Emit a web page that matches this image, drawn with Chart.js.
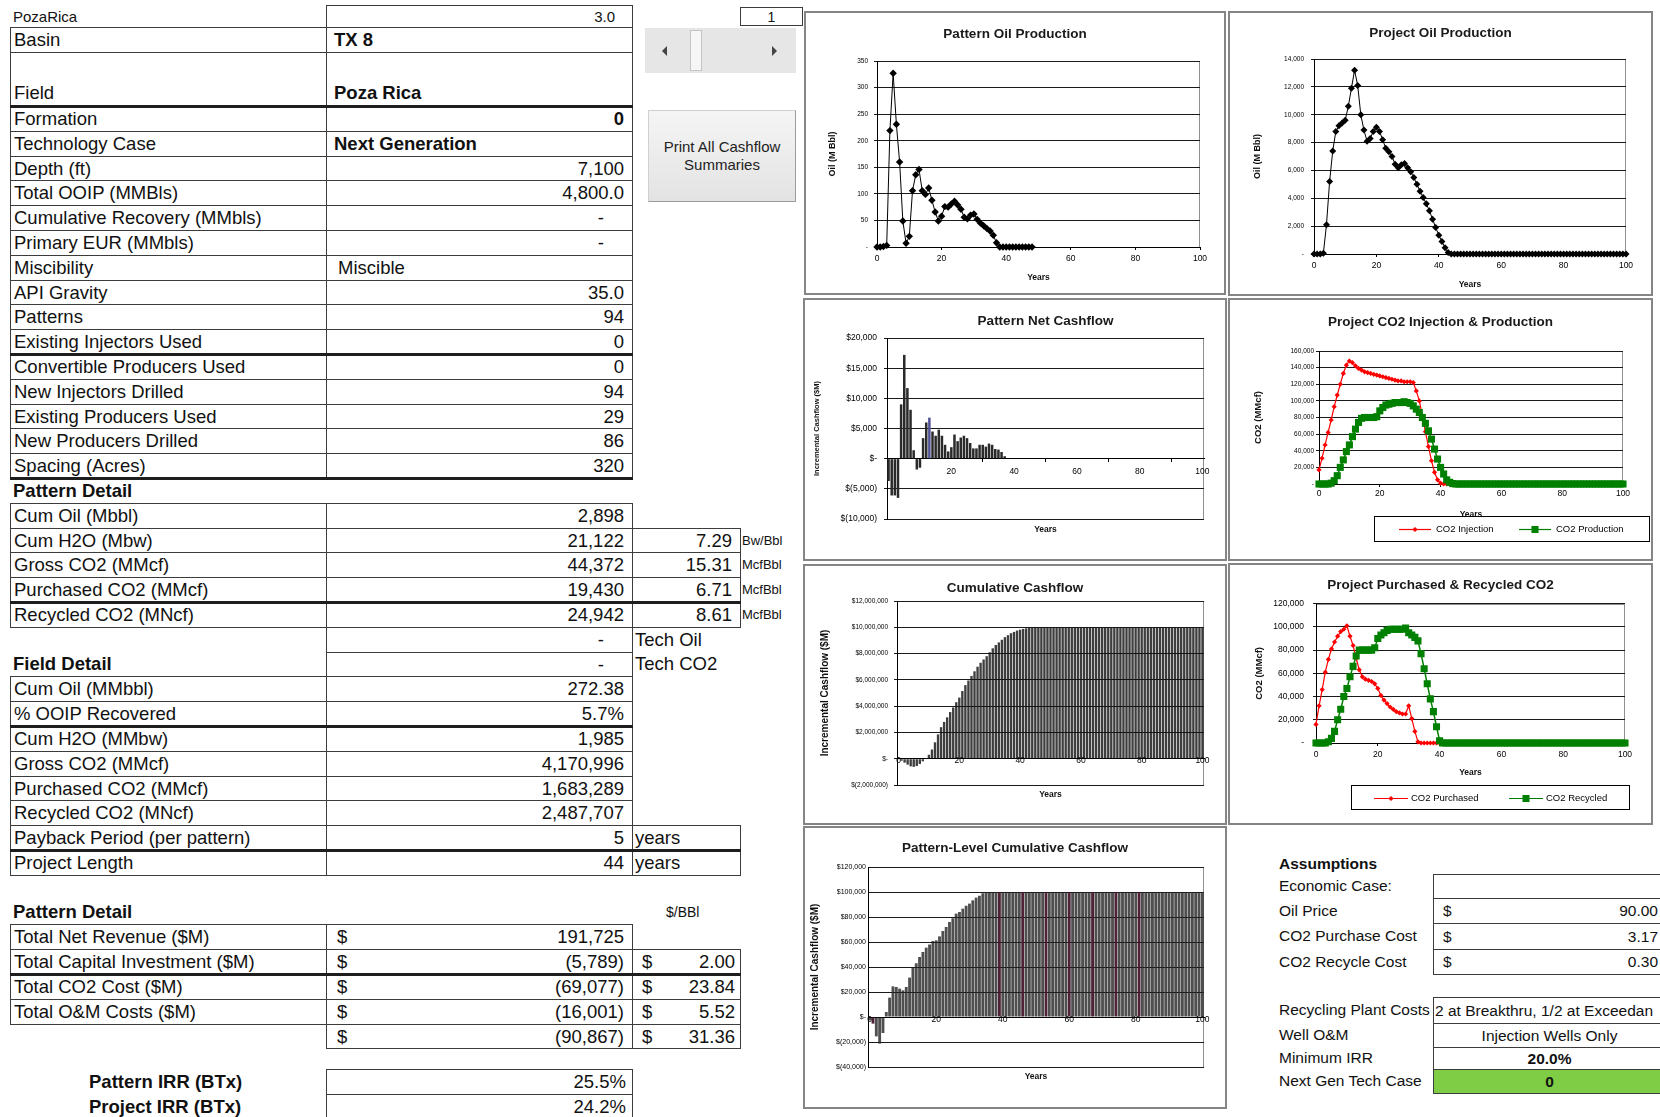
<!DOCTYPE html>
<html>
<head>
<meta charset="utf-8">
<script src="https://cdn.jsdelivr.net/npm/chart.js@4.4.1/dist/chart.umd.min.js"></script>
<style>
html, body { margin: 0; padding: 0; background: #fff; }
body { width: 1660px; height: 1117px; position: relative; overflow: hidden;
       font-family: "Liberation Sans", Arial, sans-serif; color: #111; }
.c { position: absolute; box-sizing: border-box; white-space: nowrap; overflow: hidden;
     display: flex; align-items: center; font-size: 18.5px; padding: 0 3px; }
.bd { border: 1px solid #3c3c3c; }
.r { justify-content: flex-end; padding-right: 8px; }
.l { justify-content: flex-start; }
.ctr { justify-content: center; }
.sb { justify-content: space-between; padding-left: 10px; padding-right: 8px; }
.b { font-weight: bold; }
.thick { position: absolute; height: 3px; background: #1e1e1e; }
.chartbox { position: absolute; box-sizing: border-box; border: 2px solid #858585; background: #fff; }
.chartbox canvas { position: absolute; left: 0; top: 0; }
</style>
</head>
<body>
<script>
// ---- sheet data ----
const infoLabels = ['Formation', 'Technology Case', 'Depth (ft)', 'Total OOIP (MMBls)', 'Cumulative Recovery (MMbls)',
  'Primary EUR (MMbls)', 'Miscibility', 'API Gravity', 'Patterns', 'Existing Injectors Used',
  'Convertible Producers Used', 'New Injectors Drilled', 'Existing Producers Used', 'New Producers Drilled', 'Spacing (Acres)'];
const infoValues = ['0', 'Next Generation', '7,100', '4,800.0', '-', '-', 'Miscible', '35.0', '94', '0', '0', '94', '29', '86', '320'];
const patternLabels = ['Cum Oil (Mbbl)', 'Cum H2O (Mbw)', 'Gross CO2 (MMcf)', 'Purchased CO2 (MMcf)', 'Recycled CO2 (MNcf)'];
const patternValues = ['2,898', '21,122', '44,372', '19,430', '24,942'];
const patternRatios = [null, '7.29', '15.31', '6.71', '8.61'];
const ratioUnits = [null, 'Bw/Bbl', 'McfBbl', 'McfBbl', 'McfBbl'];
const techLabels = ['Tech Oil', 'Tech CO2'];
const techValues = ['-', '-'];
const fieldLabels = ['Cum Oil (MMbbl)', '% OOIP Recovered', 'Cum H2O (MMbw)', 'Gross CO2 (MMcf)', 'Purchased CO2 (MMcf)',
  'Recycled CO2 (MNcf)', 'Payback Period (per pattern)', 'Project Length'];
const fieldValues = ['272.38', '5.7%', '1,985', '4,170,996', '1,683,289', '2,487,707', '5', '44'];
const costLabels = ['Total Net Revenue ($M)', 'Total Capital Investment ($M)', 'Total CO2 Cost ($M)', 'Total O&M Costs ($M)', ''];
const costValues = ['191,725', '(5,789)', '(69,077)', '(16,001)', '(90,867)'];
const costPerBbl = [null, '2.00', '23.84', '5.52', '31.36'];
const irrLabels = ['Pattern IRR (BTx)', 'Project IRR (BTx)'];
const irrValues = ['25.5%', '24.2%'];
const assumptionLabels = ['Economic Case:', 'Oil Price', 'CO2 Purchase Cost', 'CO2 Recycle Cost',
  'Recycling Plant Costs', 'Well O&M', 'Minimum IRR', 'Next Gen Tech Case'];
const assumptionValues = ['', '90.00', '3.17', '0.30', '2 at Breakthru, 1/2 at Exceedan', 'Injection Wells Only', '20.0%', '0'];

// ---- chart data ----
const years = [0,1,2,3,4,5,6,7,8,9,10,11,12,13,14,15,16,17,18,19,20,21,22,23,24,25,26,27,28,29,30,
  31,32,33,34,35,36,37,38,39,40,41,42,43,44,45,46,47,48,49,50,51,52,53,54,55,56,57,58,59,60,
  61,62,63,64,65,66,67,68,69,70,71,72,73,74,75,76,77,78,79,80,81,82,83,84,85,86,87,88,89,90,
  91,92,93,94,95,96,97,98,99,100];

const patternOil = [0,0,1,3,219,327,231,160,49,7, 20,106,136,146,106,99,111,88,66,49,
  58,76,75,81,86,79,71,56,53,60, 62,52,45,40,35,30,22,8,0,0, 0,0,0,0,0,0,0,0,0];

const projectOil = [0,0,0,50,2100,5200,7400,8800,9200,9400,
  9600,10600,11900,13200,12100,10000,8900,8100,8300,8800,
  9100,8800,8200,7600,7350,7000,6450,6200,6400,6500,
  6200,5900,5500,5000,4500,4050,3600,3100,2500,1900,
  1350,900,450,100,0,0,0,0,0,0,
  0,0,0,0,0,0,0,0,0,0, 0,0,0,0,0,0,0,0,0,0, 0,0,0,0,0,0,0,0,0,0,
  0,0,0,0,0,0,0,0,0,0, 0,0,0,0,0,0,0,0,0,0, 0];

const patternNetCash = [-3700,-6100,-6100,-6500,9000,17200,11700,8100,1400,-1800,
  -1500,3400,6000,6800,4500,3800,4800,3800,2300,1200,
  1900,4000,2900,3500,3800,3400,2600,1700,1700,2300,
  2300,2000,2500,2300,1600,1500,1100,400];

const co2Injection = [17000,31000,47000,62000,77000,93000,107000,120000,133000,143000,
  148000,146000,142000,139000,137000,135000,134000,133000,132000,131000,
  130000,129000,128000,127000,126000,125000,124000,124000,123000,123000,
  123000,122000,112000,100000,82000,63000,45000,28000,14000,5000,
  1000,0,0,0,0];

const co2Production = [0,0,0,0,1000,4000,10000,20000,29000,39000,
  47000,57000,66000,74000,79000,80000,80000,80000,80000,81000,
  88000,92000,95000,96000,97000,98000,98000,98000,99000,98000,
  97000,94000,90000,86000,80000,73000,64000,54000,42000,30000,
  20000,12000,5000,2000,500,0,0,0,0,0,
  0,0,0,0,0,0,0,0,0,0, 0,0,0,0,0,0,0,0,0,0, 0,0,0,0,0,0,0,0,0,0,
  0,0,0,0,0,0,0,0,0,0, 0,0,0,0,0,0,0,0,0,0, 0];

const projectCumCash = [-50000,-150000,-300000,-450000,-580000,-620000,-560000,-400000,-200000,50000,
  300000,700000,1250000,1850000,2400000,2800000,3150000,3550000,3900000,4300000,
  4650000,5150000,5600000,5950000,6300000,6650000,7000000,7300000,7550000,7800000,
  8100000,8400000,8650000,8850000,9050000,9250000,9400000,9550000,9650000,9750000,
  9820000,9880000,9920000,9950000,9980000,9980000,9980000,9980000,9980000,9980000,
  9980000,9980000,9980000,9980000,9980000,9980000,9980000,9980000,9980000,9980000,
  9980000,9980000,9980000,9980000,9980000,9980000,9980000,9980000,9980000,9980000,
  9980000,9980000,9980000,9980000,9980000,9980000,9980000,9980000,9980000,9980000,
  9980000,9980000,9980000,9980000,9980000,9980000,9980000,9980000,9980000,9980000,
  9980000,9980000,9980000,9980000,9980000,9980000,9980000,9980000,9980000,9980000,
  9980000];

const co2Purchased = [16000,32000,46000,61000,72000,81000,87000,92000,96000,98000,
  101000,92000,84000,73000,63000,57000,55000,54000,53000,51000,
  47000,41000,37000,34000,31000,29000,27000,26000,25000,25000,
  32000,21000,10000,1000,0,0,0,0,0,0,0];

const co2Recycled = [0,0,0,0,1000,4000,10000,20000,29000,40000,
  47000,57000,66000,75000,80000,80000,80000,80000,80000,82000,
  90000,93000,95000,97000,98000,98000,98000,98000,98000,99000,
  95000,93000,91000,88000,77000,64000,51000,38000,27000,14000,
  2000,0,0,0,0,0,0,0,0,0,
  0,0,0,0,0,0,0,0,0,0, 0,0,0,0,0,0,0,0,0,0, 0,0,0,0,0,0,0,0,0,0,
  0,0,0,0,0,0,0,0,0,0, 0,0,0,0,0,0,0,0,0,0, 0];

const patternCumCash = [-2700,-5300,-15500,-21300,-12800,4000,15500,24500,24000,22700,
  21300,24000,31500,39500,43000,48000,52000,55500,58000,60800,
  61300,64500,68800,72000,76000,79000,82700,84000,86700,89000,
  90700,93300,95500,97000,99000,100000,100000,100000,100000,100000,
  100000,100000,100000,100000,100000,100000,100000,100000,100000,100000,
  100000,100000,100000,100000,100000,100000,100000,100000,100000,100000,
  100000,100000,100000,100000,100000,100000,100000,100000,100000,100000,
  100000,100000,100000,100000,100000,100000,100000,100000,100000,100000,
  100000,100000,100000,100000,100000,100000,100000,100000,100000,100000,
  100000,100000,100000,100000,100000,100000,100000,100000,100000,100000,
  100000];

// ---- sheet layout ----
const ROW0 = 106, RH = 24.8;
const rowY = r => Math.round(ROW0 + RH * r);
const A = [10, 316], B = [326, 306], C = [632, 108];

function cell(x, y, w, h, html, cls, style) {
  const d = document.createElement('div');
  d.className = 'c ' + (cls || '');
  const bordered = (cls || '').indexOf('bd') >= 0;
  d.style.left = x + 'px'; d.style.top = y + 'px';
  d.style.width = (w + (bordered ? 1 : 0)) + 'px';
  d.style.height = (h + (bordered ? 1 : 0)) + 'px';
  if (style) d.style.cssText += style;
  d.innerHTML = html;
  document.body.appendChild(d);
  return d;
}
function thick(x, y, w) {
  const d = document.createElement('div');
  d.className = 'thick';
  d.style.left = x + 'px'; d.style.top = (y - 1) + 'px'; d.style.width = (w + 1) + 'px';
  document.body.appendChild(d);
}
function rowCells(r, label, value, opts) {
  const y = rowY(r), h = rowY(r + 1) - y;
  opts = opts || {};
  if (label !== null) cell(A[0], y, A[1], h, label, 'bd');
  if (value !== null) cell(B[0], y, B[1], h, value, 'bd ' + (opts.valueCls || 'r'), opts.valueStyle || '');
}

// header rows
cell(10, 5, 316, 22, 'PozaRica', '', 'font-size:15px');
cell(326, 5, 306, 22, '3.0', 'bd r', 'font-size:15px;padding-right:17px');
cell(A[0], 27, A[1], 25, 'Basin', 'bd');
cell(B[0], 27, B[1], 25, 'TX 8', 'bd b', 'padding-left:7px');
cell(A[0], 52, A[1], 54, 'Field', 'bd', 'align-items:flex-end;padding-bottom:2px');
cell(B[0], 52, B[1], 54, 'Poza Rica', 'bd b', 'align-items:flex-end;padding-bottom:2px;padding-left:7px');

infoLabels.forEach((lab, i) => {
  const v = infoValues[i];
  let cls = 'r', st = '';
  if (i === 0) cls = 'r b';
  if (i === 1) { cls = 'l b'; st = 'padding-left:7px'; }
  if (i === 6) { cls = 'l'; st = 'padding-left:11px'; }
  if (v === '-') st = 'padding-right:28px';
  rowCells(i, lab, v, {valueCls: cls, valueStyle: st});
});
thick(10, 106, 622);
thick(10, rowY(10), 622);
thick(10, rowY(15), 622);

cell(A[0], rowY(15), A[1], rowY(16) - rowY(15), 'Pattern Detail', 'b');
patternLabels.forEach((lab, i) => {
  const r = 16 + i;
  rowCells(r, lab, patternValues[i]);
  if (patternRatios[i]) {
    cell(C[0], rowY(r), C[1], rowY(r + 1) - rowY(r), patternRatios[i], 'bd r');
    cell(742, rowY(r), 60, rowY(r + 1) - rowY(r), ratioUnits[i], '', 'font-size:13px;padding:0');
  }
});
thick(10, rowY(20), 730);

techLabels.forEach((lab, i) => {
  const r = 21 + i, y = rowY(r), h = rowY(r + 1) - y;
  cell(B[0], y, B[1], h, techValues[i], 'bd r', 'padding-right:28px');
  cell(C[0] + 1, y, 110, h, lab, '', 'padding-left:2px');
});
cell(A[0], rowY(22), A[1], rowY(23) - rowY(22), 'Field Detail', 'b');

fieldLabels.forEach((lab, i) => {
  const r = 23 + i;
  rowCells(r, lab, fieldValues[i]);
  if (i >= 6) cell(C[0], rowY(r), C[1], rowY(r + 1) - rowY(r), 'years', 'bd', 'padding-left:2px');
});
thick(10, rowY(25), 622);
thick(10, rowY(30), 730);

cell(A[0], rowY(32), A[1], rowY(33) - rowY(32), 'Pattern Detail', 'b');
cell(660, rowY(32), 60, rowY(33) - rowY(32), '$/BBl', '', 'font-size:14px;padding-left:6px');
costLabels.forEach((lab, i) => {
  const r = 33 + i, y = rowY(r), h = rowY(r + 1) - y;
  if (lab) cell(A[0], y, A[1], h, lab, 'bd');
  cell(B[0], y, B[1], h, '<span>$</span><span>' + costValues[i] + '</span>', 'bd sb');
  if (costPerBbl[i]) cell(C[0], y, C[1], h, '<span>$</span><span>' + costPerBbl[i] + '</span>', 'bd sb', 'padding-left:9px;padding-right:5px');
});
thick(10, rowY(35), 730);

irrLabels.forEach((lab, i) => {
  const y = 1069 + i * 25;
  cell(86, y, 240, 25, lab, 'b');
  cell(B[0], y, B[1], 25, irrValues[i], 'bd r', 'padding-right:6px');
});

// scroll control and button
cell(740, 7, 62, 18, '1', 'bd ctr', 'font-size:14px');
(function () {
  const s = document.createElement('div');
  s.style.cssText = 'position:absolute;left:645px;top:28px;width:151px;height:45px;background:#e6e6e6;';
  s.innerHTML =
    '<div style="position:absolute;left:17px;top:18px;width:0;height:0;border-top:5px solid transparent;border-bottom:5px solid transparent;border-right:5px solid #444"></div>' +
    '<div style="position:absolute;left:45px;top:2px;width:10px;height:39px;background:#f6f6f6;border:1px solid #c4c4c4"></div>' +
    '<div style="position:absolute;left:127px;top:18px;width:0;height:0;border-top:5px solid transparent;border-bottom:5px solid transparent;border-left:5px solid #444"></div>';
  document.body.appendChild(s);
  const b = document.createElement('div');
  b.style.cssText = 'position:absolute;left:648px;top:110px;width:148px;height:92px;box-sizing:border-box;' +
    'background:linear-gradient(#f5f5f5,#e3e3e3);border:1px solid #d0d0d0;border-right-color:#9c9c9c;border-bottom-color:#9c9c9c;' +
    'display:flex;align-items:center;justify-content:center;text-align:center;font-size:15px;line-height:18px;color:#222;';
  b.innerHTML = 'Print All Cashflow<br>Summaries';
  document.body.appendChild(b);
})();

// assumptions
cell(1276, 853, 150, 22, 'Assumptions', 'b', 'font-size:15.5px');
const asmY = [874, 898, 923, 949, 997, 1023, 1047, 1069];
const asmH = [24, 25, 26, 25, 26, 24, 22, 24];
assumptionLabels.forEach((lab, i) => {
  cell(1276, asmY[i], 160, asmH[i], lab, '', 'font-size:15.5px');
  let html = assumptionValues[i], cls = 'bd ctr', st = 'font-size:15.5px;';
  if (i >= 1 && i <= 3) { html = '<span>$</span><span>' + assumptionValues[i] + '</span>'; cls = 'bd sb'; st += 'padding-left:9px;padding-right:3px;width:229px'; }
  else if (i === 4) { cls = 'bd'; st += 'padding-left:1px;'; }
  else if (i === 6) { cls = 'bd ctr b'; }
  else if (i === 7) { cls = 'bd ctr b'; st += 'background:#7fcc45;'; }
  cell(1433, asmY[i], 232, asmH[i], html, cls, st);
});

// ---- charts ----
const FONT = '"Liberation Sans", Arial, sans-serif';
Chart.defaults.font.family = FONT;
Chart.defaults.color = '#000';

const plain = v => v === 0 ? '-' : v.toLocaleString('en-US');
const dollars = v => v === 0 ? '$-' : (v < 0 ? '$(' + (-v).toLocaleString('en-US') + ')' : '$' + v.toLocaleString('en-US'));

function marker(ctx, style, x, y, r) {
  ctx.beginPath();
  if (style === 'rect') {
    const s = r * Math.SQRT1_2;
    ctx.rect(x - s, y - s, 2 * s, 2 * s);
  } else {
    ctx.moveTo(x, y - r); ctx.lineTo(x + r, y); ctx.lineTo(x, y + r); ctx.lineTo(x - r, y); ctx.closePath();
  }
  ctx.fill();
}

const plotFrame = {
  id: 'plotFrame',
  beforeDraw(chart) {
    const a = chart.chartArea, ctx = chart.ctx;
    ctx.save();
    ctx.strokeStyle = '#8f8f8f'; ctx.lineWidth = 1;
    ctx.strokeRect(Math.round(a.left) + 0.5, Math.round(a.top) + 0.5, Math.round(a.right - a.left) - 1, Math.round(a.bottom - a.top));
    ctx.restore();
  },
  afterDraw(chart, args, opts) {
    const lg = opts.legend;
    if (!lg) return;
    const ctx = chart.ctx;
    ctx.save();
    ctx.fillStyle = '#fff'; ctx.fillRect(lg.x, lg.y, lg.w, lg.h);
    ctx.strokeStyle = '#000'; ctx.lineWidth = 1;
    ctx.strokeRect(lg.x + 0.5, lg.y + 0.5, lg.w - 1, lg.h - 1);
    const cy = Math.round(lg.y + lg.h / 2) + 0.5;
    chart.data.datasets.forEach((ds, i) => {
      const x0 = lg.x + lg.items[i];
      ctx.strokeStyle = ds.borderColor; ctx.lineWidth = 1.2;
      ctx.beginPath(); ctx.moveTo(x0, cy); ctx.lineTo(x0 + lg.line, cy); ctx.stroke();
      ctx.fillStyle = ds.backgroundColor;
      marker(ctx, ds.pointStyle, x0 + lg.line / 2, cy, ds.pointRadius);
      ctx.fillStyle = '#000';
      ctx.font = '9.5px ' + FONT;
      ctx.textBaseline = 'middle';
      ctx.fillText(ds.label, x0 + lg.line + lg.gap, cy);
    });
    ctx.restore();
  }
};

function buildChart(box, o, datasets) {
  const host = document.createElement('div');
  host.className = 'chartbox';
  host.style.left = box[0] + 'px'; host.style.top = box[1] + 'px';
  host.style.width = box[2] + 'px'; host.style.height = box[3] + 'px';
  const canvas = document.createElement('canvas');
  canvas.width = box[2] - 4; canvas.height = box[3] - 4;
  host.appendChild(canvas);
  document.body.appendChild(host);

  const xTitle = { display: true, text: 'Years', color: '#111', font: { size: 8.5, weight: 'bold' },
                   padding: { top: 0, bottom: o.yearsPad } };
  const x = o.bars ? {
    type: 'category', position: { y: 0 }, offset: true,
    ticks: { autoSkip: false, maxRotation: 0, minRotation: 0, font: { size: 8.5 }, padding: o.xPad,
             callback: (v, i) => (i % 20 === 0 && (o.zeroLabel || i > 0)) ? String(years[i]) : null },
    grid: { drawOnChartArea: false, drawTicks: o.xTick > 0, tickLength: o.xTick, color: '#000' },
    border: { color: '#000', width: 1 },
    title: xTitle,
    afterFit: s => { s.height = o.xH; }
  } : {
    type: 'linear', position: 'bottom', min: 0, max: 100,
    ticks: { stepSize: 20, maxRotation: 0, font: { size: 8.5 }, padding: o.xPad },
    grid: { drawOnChartArea: false, drawTicks: true, tickLength: 3, color: '#000' },
    border: { color: '#000', width: 1 },
    title: xTitle,
    afterFit: s => { s.height = o.xH; }
  };

  return new Chart(canvas, {
    type: o.bars ? 'bar' : 'line',
    data: { labels: years, datasets: datasets },
    options: {
      responsive: false,
      animation: false,
      devicePixelRatio: 1,
      events: [],
      layout: { padding: { left: 0, top: 0, right: 0, bottom: o.padB || 0 } },
      plugins: {
        legend: { display: false },
        tooltip: { enabled: false },
        title: { display: true, text: o.title, color: '#1a1a1a', fullSize: !o.titleOverPlot,
                 font: { size: 13.5, weight: 'bold' }, padding: { top: o.tTop, bottom: o.tBot } },
        plotFrame: { legend: o.legend || null }
      },
      scales: {
        x: x,
        y: {
          min: o.yMin, max: o.yMax,
          ticks: { stepSize: o.yStep, font: { size: o.yFont }, padding: o.yPad, callback: o.fmt },
          grid: { color: '#1a1a1a', lineWidth: 1, drawTicks: o.yTick > 0, tickLength: o.yTick },
          border: { color: '#000', width: 1 },
          title: { display: true, text: o.yTitle, color: '#111', font: { size: o.ytFont, weight: 'bold' },
                   padding: { top: o.ytPad, bottom: 0 } },
          afterFit: s => { s.width = o.yW; }
        },
        // empty right-hand spacer that keeps the plot off the right edge
        gap: {
          type: 'linear', position: 'right', display: true,
          grid: { display: false }, border: { display: false }, ticks: { display: false },
          afterFit: s => { s.width = o.padR; }
        }
      }
    },
    plugins: [plotFrame]
  });
}

// Pattern Oil Production
buildChart([804, 11, 422, 284], {
  title: 'Pattern Oil Production', tTop: 12.9, tBot: 18.9,
  yW: 71, padR: 24, xH: 46, xPad: 4, yearsPad: 9.9,
  yMin: 0, yMax: 350, yStep: 50, yFont: 6.5, yPad: 6, yTick: 3, fmt: plain,
  yTitle: 'Oil (M Bbl)', ytFont: 9, ytPad: 21.5
}, [{ label: 'Pattern Oil', data: patternOil, borderColor: '#000', backgroundColor: '#000', borderWidth: 1,
      pointStyle: 'rectRot', pointRadius: 3.7, pointBorderWidth: 0, tension: 0, clip: 8 }]);

// Project Oil Production
buildChart([1228, 11, 425, 285], {
  title: 'Project Oil Production', tTop: 11.9, tBot: 17.9,
  yW: 84, padR: 25, xH: 40, xPad: 4, yearsPad: 4.2,
  yMin: 0, yMax: 14000, yStep: 2000, yFont: 6.5, yPad: 7, yTick: 3, fmt: plain,
  yTitle: 'Oil (M Bbl)', ytFont: 9, ytPad: 22.5
}, [{ label: 'Project Oil', data: projectOil, borderColor: '#000', backgroundColor: '#000', borderWidth: 1,
      pointStyle: 'rectRot', pointRadius: 3.5, pointBorderWidth: 0, tension: 0, clip: 8 }]);

// Pattern Net Cashflow
buildChart([803, 298, 424, 263], {
  bars: true, title: 'Pattern Net Cashflow', titleOverPlot: true, tTop: 12.9, tBot: 8.9,
  yW: 82, padR: 21, padB: 40, xH: 80, xPad: 5.2, xTick: 3, yearsPad: 3.9, zeroLabel: false,
  yMin: -10000, yMax: 20000, yStep: 5000, yFont: 8.5, yPad: 7, yTick: 3, fmt: dollars,
  yTitle: 'Incremental Cashflow ($M)', ytFont: 7.5, ytPad: 7.2
}, [{ label: 'Net Cashflow', data: patternNetCash, borderWidth: 0, barPercentage: 0.8, categoryPercentage: 1,
      backgroundColor: patternNetCash.map((v, i) => i === 13 ? '#4f4f95' : '#2a2a2a') }]);

// Project CO2 Injection & Production
buildChart([1228, 298, 425, 263], {
  title: 'Project CO2 Injection & Production', tTop: 13.9, tBot: 20.9,
  yW: 89, padR: 28, xH: 75, xPad: 1.5, yearsPad: 39.6,
  yMin: 0, yMax: 160000, yStep: 20000, yFont: 6.5, yPad: 2, yTick: 3, fmt: plain,
  yTitle: 'CO2 (MMcf)', ytFont: 9.5, ytPad: 22.3,
  legend: { x: 144, y: 216, w: 276, h: 26, items: [25, 145], line: 32, gap: 5 }
}, [
  { label: 'CO2 Injection', data: co2Injection, borderColor: '#ff0000', backgroundColor: '#ff0000', borderWidth: 1.2,
    pointStyle: 'rectRot', pointRadius: 2.6, pointBorderWidth: 0, tension: 0, order: 2, clip: 8 },
  { label: 'CO2 Production', data: co2Production, borderColor: '#008000', backgroundColor: '#008000', borderWidth: 1.5,
    pointStyle: 'rect', pointRadius: 5, pointBorderWidth: 0, tension: 0, order: 1, clip: 8 }
]);

// Cumulative Cashflow
buildChart([803, 564, 424, 261], {
  bars: true, title: 'Cumulative Cashflow', tTop: 14.6, tBot: 4.2,
  yW: 92, padR: 21, padB: 38, xH: 50, xPad: -3, xTick: 0, yearsPad: 8.9, zeroLabel: true,
  yMin: -2000000, yMax: 12000000, yStep: 2000000, yFont: 6.5, yPad: 6, yTick: 3, fmt: dollars,
  yTitle: 'Incremental Cashflow ($M)', ytFont: 10, ytPad: 14
}, [{ label: 'Cumulative Cashflow', data: projectCumCash, borderWidth: 0, barPercentage: 0.78, categoryPercentage: 1,
      backgroundColor: 'rgba(20,20,20,0.82)' }]);

// Project Purchased & Recycled CO2
buildChart([1228, 563, 425, 262], {
  title: 'Project Purchased & Recycled CO2', tTop: 12.2, tBot: 10.3,
  yW: 86, padR: 26, xH: 80, xPad: 3.2, yearsPad: 44.9,
  yMin: 0, yMax: 120000, yStep: 20000, yFont: 8.5, yPad: 9, yTick: 3, fmt: plain,
  yTitle: 'CO2 (MMcf)', ytFont: 9.5, ytPad: 23.3,
  legend: { x: 121, y: 220, w: 279, h: 25, items: [23, 158], line: 34, gap: 3 }
}, [
  { label: 'CO2 Purchased', data: co2Purchased, borderColor: '#ff0000', backgroundColor: '#ff0000', borderWidth: 1.2,
    pointStyle: 'rectRot', pointRadius: 2.6, pointBorderWidth: 0, tension: 0, order: 2, clip: 8 },
  { label: 'CO2 Recycled', data: co2Recycled, borderColor: '#008000', backgroundColor: '#008000', borderWidth: 1.5,
    pointStyle: 'rect', pointRadius: 5, pointBorderWidth: 0, tension: 0, order: 1, clip: 8 }
]);

// Pattern-Level Cumulative Cashflow
const maroonBars = [1, 39, 46, 53, 60, 67, 74, 81];
buildChart([803, 826, 424, 283], {
  bars: true, title: 'Pattern-Level Cumulative Cashflow', tTop: 11.9, tBot: 10.9,
  yW: 63, padR: 21, padB: 40, xH: 70, xPad: -2.5, xTick: 0, yearsPad: 4.9, zeroLabel: true,
  yMin: -40000, yMax: 120000, yStep: 20000, yFont: 7, yPad: 2, yTick: 0, fmt: dollars,
  yTitle: 'Incremental Cashflow ($M)', ytFont: 10, ytPad: 4
}, [{ label: 'Pattern Cumulative Cashflow', data: patternCumCash, borderWidth: 0, barPercentage: 0.86, categoryPercentage: 1,
      backgroundColor: patternCumCash.map((v, i) => maroonBars.indexOf(i) >= 0 ? 'rgba(70,22,44,0.95)' : 'rgba(35,35,35,0.8)') }]);
</script>
</body>
</html>
